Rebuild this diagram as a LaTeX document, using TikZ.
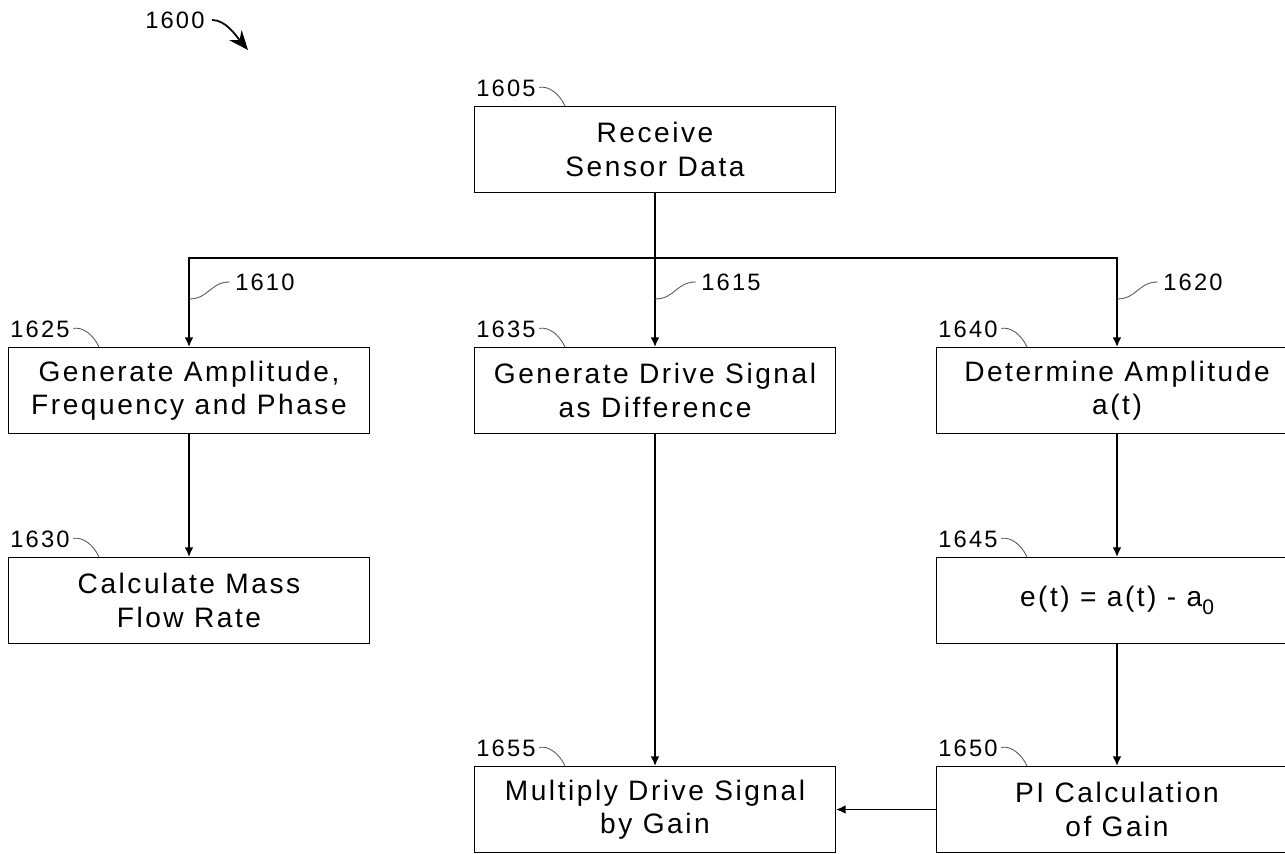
\documentclass[tikz,border=0pt]{standalone}
\usepackage{fontspec}
\setsansfont{Liberation Sans}[LetterSpace=9]
\usetikzlibrary{arrows.meta,calc,positioning}

\begin{document}
\begin{tikzpicture}[
    x=0.02cm,y=-0.02cm,
    blockbox/.style={draw,line width=0.6pt,minimum width=7.22cm,minimum height=1.72cm,
        inner sep=0pt,align=center,font=\sffamily\fontsize{16}{19}\selectfont},
    refnum/.style={inner sep=0pt,font=\sffamily\fontsize{13.5}{15}\selectfont},
    leader/.style={line width=0.5pt,gray!70!black},
    flow/.style={line width=0.9pt,-{Latex[length=5.5pt,width=5pt]}}]
\clip (0,0) rectangle (1285,853);
\node (b1605) [blockbox] at (655,149.5) {Receive\\Sensor Data};
\node (b1625) [blockbox] at (189,390.5) {Generate Amplitude,\\Frequency and Phase};
\node (b1635) [blockbox] at (655,390.5) {Generate Drive Signal\\as Difference};
\node (b1640) [blockbox] at (1117,390.5) {Determine Amplitude\\a(t)};
\node (b1630) [blockbox] at (189,600.5) {Calculate Mass\\Flow Rate};
\node (b1645) [blockbox] at (1117,600.5)
    {e(t) = a(t) - a\raisebox{-5pt}{\fontsize{12}{12}\selectfont 0}};
\node (b1655) [blockbox] at (655,809.5) {Multiply Drive Signal\\by Gain};
\node (b1650) [blockbox] at (1117,809.5) {PI Calculation\\of Gain};
% step numbers over the boxes
\foreach \n in {1605,1625,1635,1640,1630,1645,1655,1650}{
  \node (r\n) [refnum,anchor=west] at ($(b\n.north west)+(2,-18)$) {\n};
  \draw[leader,shorten <=2pt] (r\n.east) to[out=10,in=115] ($(b\n.north west)+(91,0)$);
}
% branching from the sensor data
\coordinate (bus) at (0,258);
\draw[flow] (b1605.south) -- (b1635.north);
\draw[flow] (b1605.south |- bus) -| (b1625.north);
\draw[flow] (b1605.south |- bus) -| (b1640.north);
\node (r1610) [refnum,anchor=west] at ($(b1625.north)+(46,-65)$) {1610};
\node (r1615) [refnum,anchor=west] at ($(b1635.north)+(46,-65)$) {1615};
\node (r1620) [refnum,anchor=west] at ($(b1640.north)+(46,-65)$) {1620};
\draw[leader,shorten <=3pt] (r1610.west) .. controls +(-25,0) and +(20,0) .. ($(b1625.north)+(0,-48)$);
\draw[leader,shorten <=3pt] (r1615.west) .. controls +(-25,0) and +(20,0) .. ($(b1635.north)+(0,-48)$);
\draw[leader,shorten <=3pt] (r1620.west) .. controls +(-25,0) and +(20,0) .. ($(b1640.north)+(0,-48)$);
\draw[flow] (b1625) -- (b1630);
\draw[flow] (b1635) -- (b1655);
\draw[flow] (b1640) -- (b1645);
\draw[flow] (b1645) -- (b1650);
\draw[flow] (b1650) -- (b1655);
% figure number
\node (r1600) [refnum,anchor=west] at (145,20) {1600};
\draw[line width=1pt,shorten <=4pt,-{Stealth[length=11pt,width=9pt]}]
        (r1600.east) to[out=0,in=130] (248,50);
\end{tikzpicture}
\end{document}
